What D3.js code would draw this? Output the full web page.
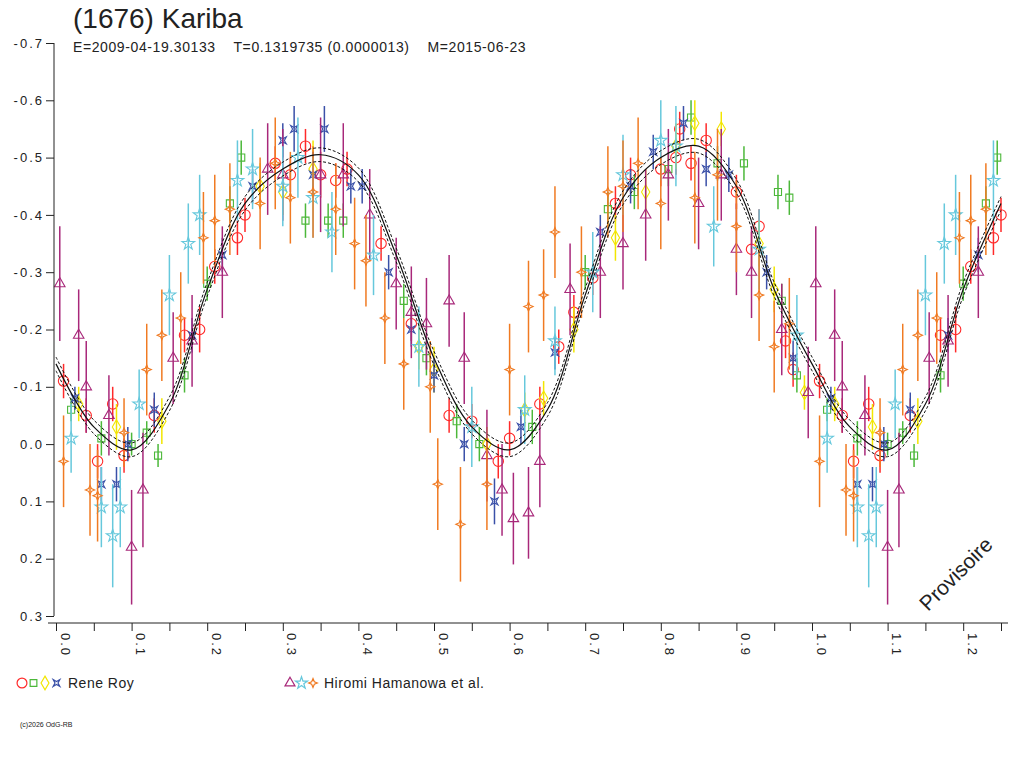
<!DOCTYPE html>
<html lang="en">
<head>
<meta charset="utf-8">
<title>(1676) Kariba</title>
<style>
  body { margin: 0; background: #fff; font-family: Arial, "Liberation Sans", sans-serif; }
  .axis text { font-size: 13px; fill: #222; letter-spacing: 2px; }
  .axis line, .axis path { stroke: #222; }
</style>
</head>
<body>
<svg id="chart" width="1024" height="768"></svg>
<script src="https://cdn.jsdelivr.net/npm/d3@7"></script>
<script>
// fitted curve, every 0.05 of phase
var curvePhase = d3.range(0, 1.0001, 0.05);
var curveMag = [-0.14, -0.03, 0.01, -0.07, -0.27, -0.42, -0.48, -0.505, -0.47, -0.33, -0.15,
                -0.03, 0.01, -0.06, -0.26, -0.43, -0.50, -0.52, -0.45, -0.27, -0.14];

// observations: [phase, magnitude, error]
var royCircle = [[0.01,-0.11,.03],[0.04,-0.05,.03],[0.055,0.03,.03],[0.075,-0.07,.03],[0.09,0.02,.03],[0.13,-0.05,.03],
  [0.17,-0.19,.03],[0.19,-0.2,.04],[0.21,-0.31,.03],[0.24,-0.36,.03],[0.25,-0.40,.03],[0.29,-0.49,.03],[0.31,-0.47,.03],
  [0.33,-0.52,.03],[0.35,-0.47,.04],[0.37,-0.46,.03],[0.385,-0.48,.03],[0.43,-0.35,.03],[0.47,-0.21,.03],[0.52,-0.05,.03],
  [0.55,-0.04,.03],[0.585,0.03,.03],[0.6,-0.01,.03],[0.64,-0.07,.03],[0.665,-0.17,.03],[0.685,-0.23,.03],[0.71,-0.29,.03],
  [0.74,-0.42,.03],[0.76,-0.47,.03],[0.8,-0.48,.03],[0.825,-0.55,.03],[0.84,-0.49,.03],[0.86,-0.53,.03],[0.9,-0.44,.03],
  [0.92,-0.34,.03],[0.93,-0.38,.03],[0.965,-0.18,.03],[0.975,-0.13,.03],[0.82,-0.5,.03]];
var roySquare = [[0.02,-0.06,.02],[0.06,-0.01,.03],[0.1,0.0,.02],[0.12,-0.02,.02],[0.135,0.02,.02],[0.17,-0.12,.03],
  [0.2,-0.28,.03],[0.23,-0.42,.03],[0.245,-0.5,.03],[0.33,-0.39,.03],[0.36,-0.39,.03],[0.38,-0.39,.03],[0.46,-0.25,.03],
  [0.49,-0.15,.03],[0.53,-0.04,.03],[0.56,0.0,.03],[0.63,-0.03,.03],[0.7,-0.3,.03],[0.73,-0.41,.03],[0.765,-0.44,.03],
  [0.81,-0.48,.03],[0.84,-0.57,.03],[0.875,-0.49,.03],[0.91,-0.49,.03],[0.955,-0.44,.03],[0.97,-0.43,.03],[0.96,-0.25,.03],[0.98,-0.12,.03]];
var royDiamond = [[0.03,-0.07,.03],[0.08,-0.03,.04],[0.14,-0.04,.04],[0.27,-0.45,.04],[0.30,-0.44,.04],[0.34,-0.48,.05],
  [0.48,-0.17,.04],[0.5,-0.13,.04],[0.57,0.0,.03],[0.62,-0.06,.03],[0.645,-0.08,.03],[0.685,-0.2,.04],[0.74,-0.36,.04],
  [0.78,-0.44,.04],[0.82,-0.52,.04],[0.845,-0.56,.04],[0.88,-0.55,.03],[0.93,-0.35,.04],[0.95,-0.27,.04],[0.99,-0.09,.03]];
var roySqStar = [[0.025,-0.08,.02],[0.06,0.07,.03],[0.08,0.07,.03],[0.095,0.0,.03],[0.13,-0.06,.03],[0.18,-0.19,.03],
  [0.22,-0.33,.03],[0.26,-0.45,.03],[0.3,-0.53,.03],[0.315,-0.55,.04],[0.34,-0.47,.04],[0.355,-0.55,.04],[0.39,-0.45,.03],
  [0.405,-0.45,.03],[0.44,-0.30,.03],[0.47,-0.20,.03],[0.5,-0.12,.03],[0.54,0.0,.03],[0.58,0.1,.04],[0.615,-0.03,.03],
  [0.66,-0.16,.03],[0.72,-0.37,.03],[0.76,-0.45,.03],[0.79,-0.51,.03],[0.83,-0.56,.03],[0.86,-0.48,.03],[0.89,-0.47,.03],
  [0.94,-0.3,.03],[0.975,-0.15,.03]];
var hamTriangle = [[0.005,-0.28,.1],[0.03,-0.19,.08],[0.04,-0.1,.08],[0.07,-0.05,.07],[0.1,0.18,.1],[0.115,0.08,.1],
  [0.155,-0.15,.08],[0.18,-0.18,.08],[0.22,-0.30,.08],[0.28,-0.48,.08],[0.3,-0.47,.08],[0.35,-0.47,.1],[0.38,-0.47,.09],
  [0.415,-0.4,.08],[0.45,-0.28,.08],[0.47,-0.23,.08],[0.49,-0.21,.08],[0.52,-0.25,.08],[0.54,-0.15,.08],[0.57,0.02,.08],
  [0.59,0.08,.08],[0.605,0.13,.08],[0.625,0.12,.08],[0.64,0.03,.08],[0.68,-0.27,.08],[0.72,-0.3,.08],[0.75,-0.35,.08],
  [0.78,-0.4,.08],[0.81,-0.47,.08],[0.85,-0.42,.08],[0.88,-0.47,.08],[0.9,-0.34,.08],[0.92,-0.3,.08],[0.96,-0.2,.08],[0.995,-0.09,.08]];
var hamStar = [[0.02,-0.01,.06],[0.06,0.11,.07],[0.075,0.16,.09],[0.085,0.11,.07],[0.11,-0.07,.06],[0.15,-0.26,.07],
  [0.175,-0.35,.07],[0.19,-0.4,.07],[0.24,-0.46,.07],[0.26,-0.48,.07],[0.3,-0.45,.07],[0.32,-0.5,.07],[0.34,-0.43,.07],
  [0.365,-0.37,.07],[0.42,-0.33,.07],[0.48,-0.17,.07],[0.55,-0.03,.07],[0.62,-0.06,.06],[0.66,-0.18,.06],[0.71,-0.3,.07],
  [0.75,-0.47,.07],[0.8,-0.53,.07],[0.82,-0.52,.07],[0.87,-0.38,.07],[0.93,-0.34,.07],[0.98,-0.19,.07]];
var hamSparkle = [[0.01,0.03,.08],[0.045,0.08,.08],[0.055,0.09,.08],[0.09,-0.02,.06],[0.12,-0.13,.08],[0.14,-0.19,.08],
  [0.165,-0.22,.08],[0.195,-0.36,.08],[0.21,-0.39,.08],[0.23,-0.41,.08],[0.27,-0.42,.08],[0.29,-0.49,.08],[0.31,-0.43,.08],
  [0.34,-0.44,.08],[0.37,-0.41,.08],[0.395,-0.35,.08],[0.41,-0.32,.08],[0.435,-0.22,.08],[0.46,-0.14,.08],[0.495,-0.1,.08],
  [0.505,0.07,.08],[0.535,0.14,.1],[0.57,0.07,.08],[0.6,-0.13,.08],[0.625,-0.24,.08],[0.645,-0.26,.08],[0.66,-0.37,.08],
  [0.695,-0.3,.08],[0.73,-0.44,.08],[0.75,-0.45,.08],[0.77,-0.49,.08],[0.8,-0.42,.08],[0.845,-0.43,.08],[0.875,-0.47,.08],
  [0.9,-0.38,.08],[0.93,-0.26,.08],[0.95,-0.17,.08],[0.97,-0.21,.08]];

var yTicks = [-0.7, -0.6, -0.5, -0.4, -0.3, -0.2, -0.1, 0.0, 0.1, 0.2, 0.3];
var xTicks = [0, 0.1, 0.2, 0.3, 0.4, 0.5, 0.6, 0.7, 0.8, 0.9, 1.0, 1.1, 1.2];

// custom outlined glyphs
var sqStar = { draw: function(c, s) { var r = Math.sqrt(s) / 2, k = r * 0.45;
  c.moveTo(-r,-r); c.lineTo(0,-k); c.lineTo(r,-r); c.lineTo(k,0); c.lineTo(r,r);
  c.lineTo(0,k); c.lineTo(-r,r); c.lineTo(-k,0); c.closePath(); } };
var sparkle = { draw: function(c, s) { var r = Math.sqrt(s) / 1.6, k = r * 0.3;
  c.moveTo(0,-r); c.lineTo(k,-k); c.lineTo(r,0); c.lineTo(k,k); c.lineTo(0,r);
  c.lineTo(-k,k); c.lineTo(-r,0); c.lineTo(-k,-k); c.closePath(); } };

var series = [
  { data: royCircle,   color: '#ff2a2a', type: d3.symbolCircle,   size: 85 },
  { data: roySquare,   color: '#4cb83a', type: d3.symbolSquare,   size: 50 },
  { data: royDiamond,  color: '#f2e600', type: d3.symbolDiamond,  size: 60 },
  { data: roySqStar,   color: '#3a50a8', type: sqStar,           size: 50 },
  { data: hamTriangle, color: '#a8287a', type: d3.symbolTriangle, size: 48 },
  { data: hamStar,     color: '#66c8dc', type: d3.symbolStar,     size: 50 },
  { data: hamSparkle,  color: '#f07a22', type: sparkle,           size: 55 }
];

var svg = d3.select('#chart');
var x = d3.scaleLinear().domain([0, 1.25]).range([56, 1001]);
var y = d3.scaleLinear().domain([-0.7, 0.3]).range([43, 616]);

// title lines
svg.append('text').attr('x', 73).attr('y', 28).style('font-size', '28px').style('fill', '#222').text('(1676) Kariba');
svg.append('text').attr('x', 73).attr('y', 52).style('font-size', '14px').style('fill', '#222')
  .style('letter-spacing', '0.6px').attr('xml:space', 'preserve')
  .text('E=2009-04-19.30133    T=0.1319735 (0.0000013)    M=2015-06-23');

// observations, folded so that phases up to 1.25 repeat
var plot = svg.append('g');
series.forEach(function(s) {
  var pts = [];
  s.data.forEach(function(d) {
    pts.push(d);
    if (d[0] + 1 <= 1.25) pts.push([d[0] + 1, d[1], d[2]]);
  });
  var g = plot.append('g');
  g.selectAll('line').data(pts).join('line')
    .attr('x1', function(d) { return x(d[0]); }).attr('x2', function(d) { return x(d[0]); })
    .attr('y1', function(d) { return y(d[1] - d[2]); }).attr('y2', function(d) { return y(d[1] + d[2]); })
    .attr('stroke', s.color).attr('stroke-width', 1.5);
  g.selectAll('path').data(pts).join('path')
    .attr('transform', function(d) { return 'translate(' + x(d[0]) + ',' + y(d[1]) + ')'; })
    .attr('d', d3.symbol().type(s.type).size(s.size))
    .attr('fill', 'none').attr('stroke', s.color).attr('stroke-width', 1.1);
});

// fitted curve plus dashed envelope
var cpts = curvePhase.map(function(p, i) { return [p, curveMag[i]]; });
cpts = cpts.concat(cpts.filter(function(d) { return d[0] > 0 && d[0] <= 0.25; })
  .map(function(d) { return [d[0] + 1, d[1]]; }));
var cline = function(off) {
  return d3.line().curve(d3.curveCatmullRom)
    .x(function(d) { return x(d[0]); }).y(function(d) { return y(d[1] + off); })(cpts);
};
svg.append('path').attr('d', cline(0)).attr('fill', 'none').attr('stroke', '#111').attr('stroke-width', 1.2);
[-0.012, 0.012].forEach(function(o) {
  svg.append('path').attr('d', cline(o)).attr('fill', 'none').attr('stroke', '#111')
    .attr('stroke-width', 1).attr('stroke-dasharray', '3,2');
});

// y axis
var yAxis = svg.append('g').attr('class', 'axis').attr('transform', 'translate(54,0)')
  .call(d3.axisLeft(y).tickValues(yTicks).tickSize(8).tickPadding(2)
    .tickFormat(function(d) { return (d < 0 ? '-' : '') + Math.abs(d).toFixed(1); }));
yAxis.select('.domain').attr('d', 'M0,' + y(-0.7) + 'V' + y(0.3));

// x axis with minor ticks
var xAxis = svg.append('g').attr('class', 'axis').attr('transform', 'translate(0,623)')
  .call(d3.axisBottom(x).tickValues(d3.range(0, 1.2501, 0.05)).tickSize(8)
    .tickFormat(function(d) { return xTicks.some(function(t) { return Math.abs(t - d) < 1e-6; }) ? d.toFixed(1) : ''; }));
xAxis.select('.domain').attr('d', 'M48,0H1008');
xAxis.selectAll('.tick text').attr('transform', 'rotate(90)').attr('x', 10).attr('y', -4)
  .attr('dy', 0).style('text-anchor', 'start');

// legend
var legend = [
  { x: 22, shapes: [0, 1, 2, 3], label: 'Rene Roy', tx: 68 },
  { x: 290, shapes: [4, 5, 6], label: 'Hiromi Hamanowa et al.', tx: 324 }
];
legend.forEach(function(l) {
  l.shapes.forEach(function(si, i) {
    var s = series[si];
    svg.append('path').attr('transform', 'translate(' + (l.x + i * 11.5) + ',683)')
      .attr('d', d3.symbol().type(s.type).size(s.size * 0.9))
      .attr('fill', 'none').attr('stroke', s.color).attr('stroke-width', 1.2);
  });
  svg.append('text').attr('x', l.tx).attr('y', 688).style('font-size', '14px').style('letter-spacing', '0.5px')
    .style('fill', '#222').text(l.label);
});

svg.append('text').attr('x', 20).attr('y', 727).style('font-size', '7px').style('fill', '#222').text('(c)2026 OdG-RB');
svg.append('text').attr('transform', 'translate(928,612) rotate(-45)').style('font-size', '21px')
  .style('fill', '#222').text('Provisoire');
</script>
</body>
</html>
